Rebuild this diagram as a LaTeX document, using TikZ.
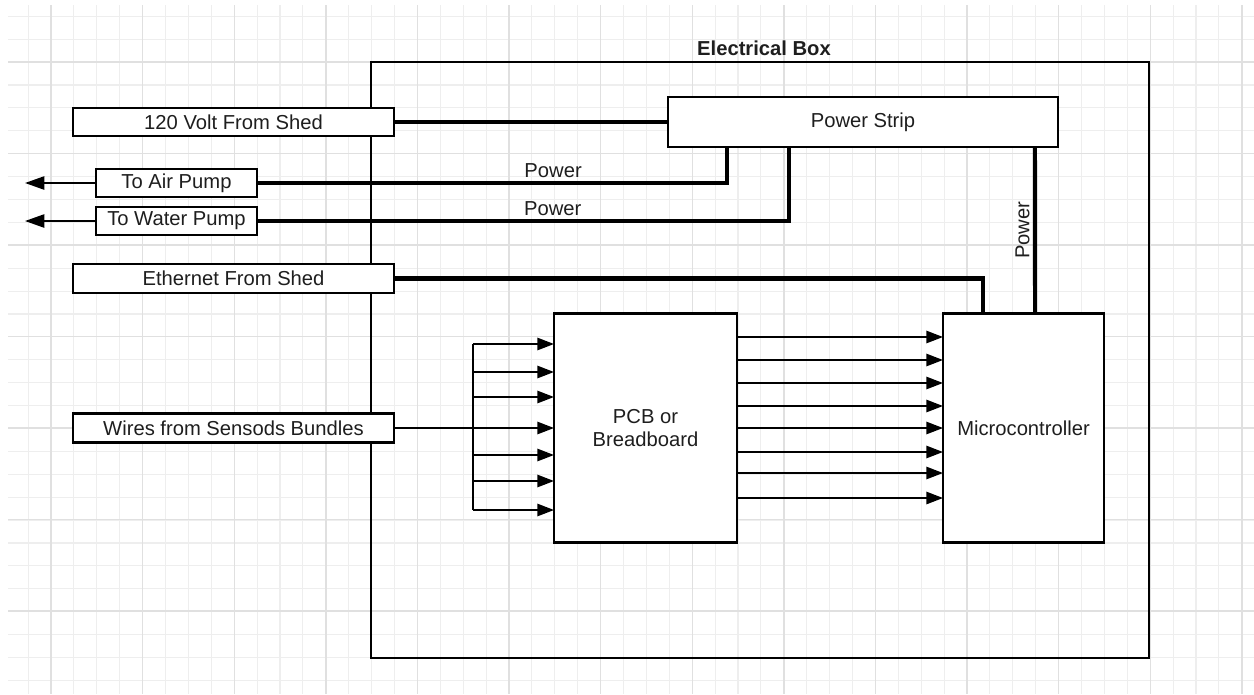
\documentclass[tikz,border=0pt]{standalone}
\usepackage{fontspec}
\setmainfont{Liberation Sans}
\usetikzlibrary{arrows.meta, positioning, calc}
\definecolor{gridminor}{RGB}{238,238,238}
\definecolor{gridmajor}{RGB}{224,224,224}
\definecolor{inkgray}{RGB}{30,30,30}

\tikzset{
  part/.style={draw, fill=white, line width=1.2pt, inner sep=0pt, outer sep=0pt, align=center, text=inkgray},
  feed/.style={line width=2.3pt},
  sig/.style={line width=1.1pt, -{Triangle[length=9.5pt,width=7pt]}},
  outsig/.style={line width=1.1pt, -{Triangle[length=11pt,width=7.5pt]}},
  lbl/.style={text=inkgray, inner sep=2pt},
}

\begin{document}
\begin{tikzpicture}[x=0.02cm, y=-0.02cm, font=\fontsize{11.5}{13}\selectfont]
  \useasboundingbox (0,0) rectangle (1254,694);
  % Grid paper
  \foreach \k in {0,...,53}{
    \draw[gridminor, line width=0.6pt] ({28.1+22.9*\k},5) -- ({28.1+22.9*\k},694);
  }
  \foreach \k in {0,...,29}{
    \draw[gridminor, line width=0.6pt] (8,{16.3+22.9*\k}) -- (1254,{16.3+22.9*\k});
  }
  \foreach \k in {0,...,13}{
    \draw[gridmajor, line width=0.8pt] ({51+91.6*\k},5) -- ({51+91.6*\k},694);
  }
  \foreach \k in {0,...,6}{
    \draw[gridmajor, line width=0.8pt] (8,{62+91.5*\k}) -- (1254,{62+91.5*\k});
  }
  % Electrical box
  \node[draw, line width=1.1pt, minimum width=15.56cm, minimum height=11.92cm, inner sep=0pt, outer sep=0pt] (ebox) at (760,360) {};
  \node[lbl, font=\fontsize{11.5}{13}\selectfont\bfseries, above=1.4pt of ebox.north, xshift=0.08cm] (eboxlbl) {Electrical Box};
  % Outside connections
  \node[part, minimum width=6.42cm, minimum height=0.56cm] (volt) at (233.5,122) {120 Volt From Shed};
  \node[part, minimum width=3.22cm, minimum height=0.56cm] (air) at (176.5,183) {To Air Pump};
  \node[part, minimum width=3.22cm, minimum height=0.56cm] (water) at (176.5,221) {To Water Pump};
  \node[part, minimum width=6.42cm, minimum height=0.58cm] (eth) at (233.5,278.5) {Ethernet From Shed};
  \node[part, minimum width=6.42cm, minimum height=0.58cm] (wires) at (233.5,428) {Wires from Sensods Bundles};
  % Inside the box
  \node[part, minimum width=7.8cm, minimum height=1.0cm] (strip) at (863,122) {Power Strip};
  \node[part, minimum width=3.66cm, minimum height=4.58cm] (pcb) at (645.5,428) {PCB or\\Breadboard};
  \node[part, minimum width=3.22cm, minimum height=4.58cm] (mcu) at (1023.5,428) {Microcontroller};
  % Tap points
  \coordinate (airtap) at ($(strip.south west)+(59,0)$);
  \coordinate (watertap) at ($(strip.south west)+(121,0)$);
  \coordinate (striptap) at ($(strip.south east)+(-23,0)$);
  \coordinate (mcutap) at ($(mcu.north west)+(92,0)$);
  \coordinate (ethdrop) at ($(mcu.north west)+(40,0)$);
  \coordinate (airend) at (25,183);
  \coordinate (waterend) at (25,221);
  \coordinate (bustop) at (473,344);
  \coordinate (busbot) at (473,510);
  % Power and ethernet feeds
  \draw[feed] (volt.east) -- (strip.west);
  \draw[feed] (air.east) -| (airtap) node[lbl, pos=0.315, above] {Power};
  \draw[feed] (water.east) -| (watertap) node[lbl, pos=0.278, above] {Power};
  \draw[feed] (eth.east) -| (ethdrop);
  \draw[feed] (mcutap) -- (striptap) node[lbl, midway, rotate=90, above] {Power};
  % Pumps
  \draw[outsig] (air.west) -- (airend);
  \draw[outsig] (water.west) -- (waterend);
  % Sensor wires into the board
  \draw[sig] (wires.east) -- (pcb.west);
  \draw[line width=1.1pt] (bustop) -- (busbot);
  \foreach \y in {344,372,397,455,481,510}{
    \coordinate (t) at (0,\y);
    \draw[sig] (bustop |- t) -- (pcb.west |- t);
  }
  % Board to microcontroller
  \foreach \y in {337,360,383,406,428,452,473,498}{
    \coordinate (t) at (0,\y);
    \draw[sig] (pcb.east |- t) -- (mcu.west |- t);
  }
\end{tikzpicture}
\end{document}
